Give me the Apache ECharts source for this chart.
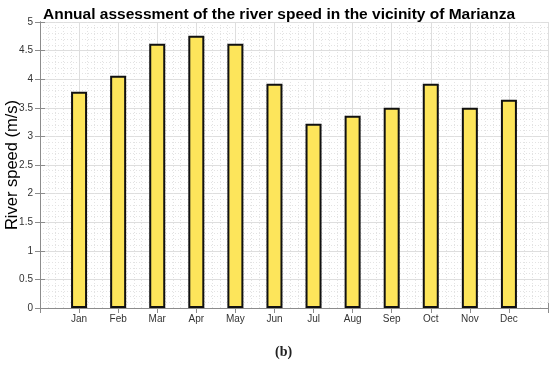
<!DOCTYPE html>
<html>
<head>
<meta charset="utf-8">
<script src="https://cdn.jsdelivr.net/npm/echarts@6/dist/echarts.min.js"></script>
<style>html,body{margin:0;padding:0;background:#fff}#c{width:550px;height:368px}</style>
</head>
<body>
<div id="c"></div>
<script>
var months = ['Jan','Feb','Mar','Apr','May','Jun','Jul','Aug','Sep','Oct','Nov','Dec'];
var speeds = [3.78, 4.06, 4.62, 4.76, 4.62, 3.92, 3.22, 3.36, 3.50, 3.92, 3.50, 3.64];
var yTicks = [0, 0.5, 1, 1.5, 2, 2.5, 3, 3.5, 4, 4.5, 5];
var titleText = 'Annual assessment of the river speed in the vicinity of Marianza';
var yName = 'River speed (m/s)';
var panelLabel = '(b)';

var chart = echarts.init(document.getElementById('c'), null, {renderer:'canvas'});
var barData = speeds.map(function(v,i){ return [i+1, v]; });
var frame = {show:true, lineStyle:{color:'#8c8c8c', width:1}};
var minorGrid = {show:true, lineStyle:{color:'#e3e3e3', type:[1,2], width:1}};
var majorGrid = {show:true, lineStyle:{color:'#dedede', width:1}};
chart.setOption({
  animation:false,
  title:{text:titleText, left:274, top:2, textAlign:'center',
    textStyle:{fontFamily:'Liberation Sans', fontWeight:'bold', fontSize:15.5, color:'#000'}},
  grid:{left:40, right:2, top:22, bottom:60, containLabel:false, outerBoundsMode:'none'},
  xAxis:[{
    type:'value', min:0, max:months.length+1, interval:1, position:'bottom',
    axisLine:frame, axisTick:{show:true, inside:true, length:5, lineStyle:{color:'#8c8c8c'}},
    axisLabel:{fontFamily:'Liberation Sans', fontSize:10, color:'#333', margin:6,
      formatter:function(v){ return (v>=1 && v<=months.length) ? months[v-1] : ''; }},
    splitLine:majorGrid, minorTick:{show:false}, minorSplitLine:minorGrid
  },{
    type:'value', min:0, max:months.length+1, interval:1, position:'top',
    axisLine:frame, axisTick:{show:true, inside:true, length:5, lineStyle:{color:'#8c8c8c'}},
    axisLabel:{show:false}, splitLine:{show:false}
  }],
  yAxis:[{
    type:'value', min:yTicks[0], max:yTicks[yTicks.length-1], interval:0.5, position:'left',
    name:yName, nameLocation:'middle', nameGap:19, nameMoveOverlap:false,
    nameTextStyle:{fontFamily:'Liberation Sans', fontSize:16.5, color:'#000'},
    axisLine:frame, axisTick:{show:true, inside:true, length:5, lineStyle:{color:'#8c8c8c'}},
    axisLabel:{fontFamily:'Liberation Sans', fontSize:10, color:'#333', margin:7},
    splitLine:majorGrid, minorTick:{show:false}, minorSplitLine:minorGrid
  },{
    type:'value', min:yTicks[0], max:yTicks[yTicks.length-1], interval:0.5, position:'right',
    axisLine:frame, axisTick:{show:true, inside:true, length:5, lineStyle:{color:'#8c8c8c'}},
    axisLabel:{show:false}, splitLine:{show:false}
  }],
  series:[{
    type:'bar', xAxisIndex:0, yAxisIndex:0, data:barData, barWidth:16,
    itemStyle:{color:'#fde55b', borderColor:'#111', borderWidth:2}
  }],
  graphic:[{type:'text', left:275, top:345,
    style:{text:panelLabel, font:'bold 14px "Liberation Serif"', fill:'#222'}}]
});
</script>
</body>
</html>
